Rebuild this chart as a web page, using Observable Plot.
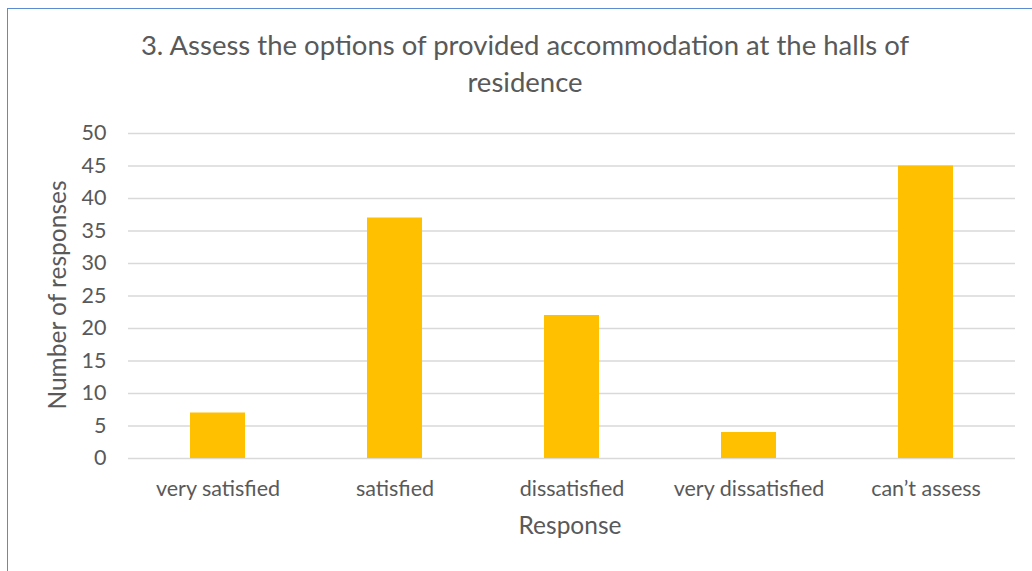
<!DOCTYPE html>
<html><head><meta charset="utf-8">
<script src="https://cdn.jsdelivr.net/npm/d3@7"></script>
<script src="https://cdn.jsdelivr.net/npm/@observablehq/plot@0.6"></script>
<style>
body{margin:0;background:#fff;}
#wrap{position:relative;width:1032px;height:571px;overflow:hidden;font-family:Lato,"Open Sans",sans-serif;}
#frame{position:absolute;left:7px;top:8px;width:1040px;height:580px;border-left:1.5px solid #5b8bd0;border-top:1.5px solid #5b8bd0;}
#title{position:absolute;left:110px;top:26px;width:830px;text-align:center;font-size:27.5px;line-height:37px;color:#595959;}
#chart{position:absolute;left:0;top:0;}
</style></head>
<body><div id="wrap"><div id="frame"></div><div id="chart"></div>
<div id="title">3. Assess the options of provided accommodation at the halls of residence</div></div>
<script>
const categories = ["very satisfied","satisfied","dissatisfied","very dissatisfied","can’t assess"];
const values = [7,37,22,4,45];
const yTicks = [0,5,10,15,20,25,30,35,40,45,50];
const data = categories.map((c,i)=>({cat:c,val:values[i]}));
const chart = Plot.plot({
  width:1032,height:571,
  marginTop:133,marginBottom:113,marginLeft:128,marginRight:17,
  style:{background:"transparent",fontFamily:"Lato, 'Open Sans', sans-serif",color:"#595959"},
  x:{domain:categories,paddingInner:0.69,paddingOuter:0.345,label:null},
  y:{domain:[0,50],ticks:yTicks,label:null},
  marks:[
    Plot.ruleY(yTicks,{stroke:"#d9d9d9",strokeWidth:1.3}),
    Plot.barY(data,{x:"cat",y:"val",fill:"#FFC000"}),
    Plot.axisX({tickSize:0,tickPadding:22,fontSize:21.5,label:null,fill:"#595959"}),
    Plot.axisY({ticks:yTicks,tickSize:0,tickPadding:22,fontSize:21.5,label:null,fill:"#595959"})
  ]
});
document.getElementById("chart").appendChild(chart);
const svg = d3.select(chart);
svg.append("text").attr("transform","translate(60,295) rotate(-90)").attr("text-anchor","middle")
  .attr("dominant-baseline","middle").attr("font-size",24.5).attr("fill","#595959").text("Number of responses");
svg.append("text").attr("x",570).attr("y",528).attr("text-anchor","middle")
  .attr("dominant-baseline","middle").attr("font-size",24.5).attr("fill","#595959").text("Response");
</script></body></html>
